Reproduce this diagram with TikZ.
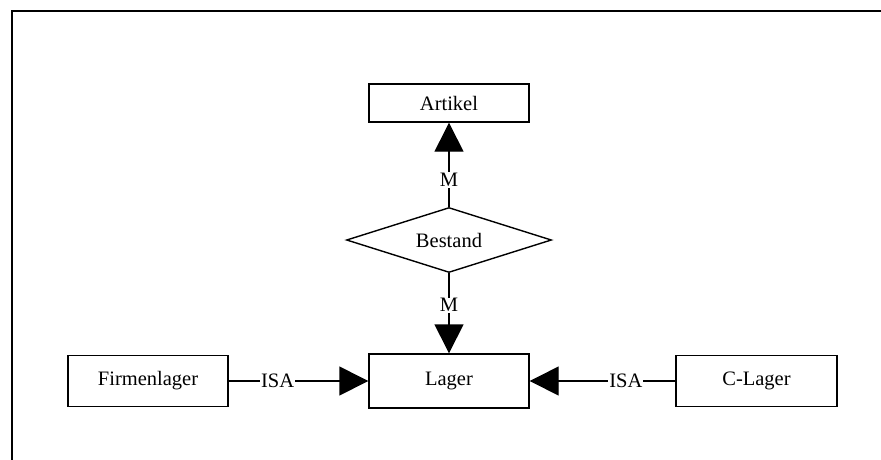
\documentclass[tikz,border=0pt]{standalone}
\usepackage{fontspec}
\setmainfont{Liberation Serif}
\usetikzlibrary{arrows.meta,shapes.geometric}
\begin{document}
\begin{tikzpicture}[x=1pt,y=-1pt,
  txt/.style={font=\fontsize{20.5}{24}\selectfont},
  entity/.style={txt, draw, line width=1.4pt, inner sep=0pt, minimum width=160pt},
  relation/.style={txt, draw, diamond, line width=1.4pt, inner sep=0pt, aspect=3.15,
    minimum width=205pt, minimum height=65pt},
  lbl/.style={txt, fill=white, inner sep=1pt},
  conn/.style={line width=1.4pt, -{Triangle[length=29pt,width=29pt]}}]
\useasboundingbox (0,0) rectangle (881,459);
% open frame: left and top edges only
\draw[line width=2pt] (12,462) -- (12,10.5) -- (884,10.5);

\node[entity, minimum height=38pt] (artikel) at (449,103) {Artikel};
\node[relation] (bestand) at (449,240) {Bestand};
\node[entity, minimum height=54pt] (lager) at (449,381) {Lager};
\node[entity, minimum height=51pt] (firmen) at (148,381) {Firmenlager};
\node[entity, minimum height=51pt, minimum width=161pt] (clager) at (756.5,381) {C-Lager};

\draw[conn] (bestand.north) -- node[lbl, pos=0.32] {M} (artikel.south);
\draw[conn] (bestand.south) -- node[lbl, pos=0.40] {M} (lager.north);
\draw[conn] (firmen.east) -- node[lbl, pos=0.35] {ISA} (lager.west);
\draw[conn] (clager.west) -- node[lbl, pos=0.34] {ISA} (lager.east);
\end{tikzpicture}
\end{document}
